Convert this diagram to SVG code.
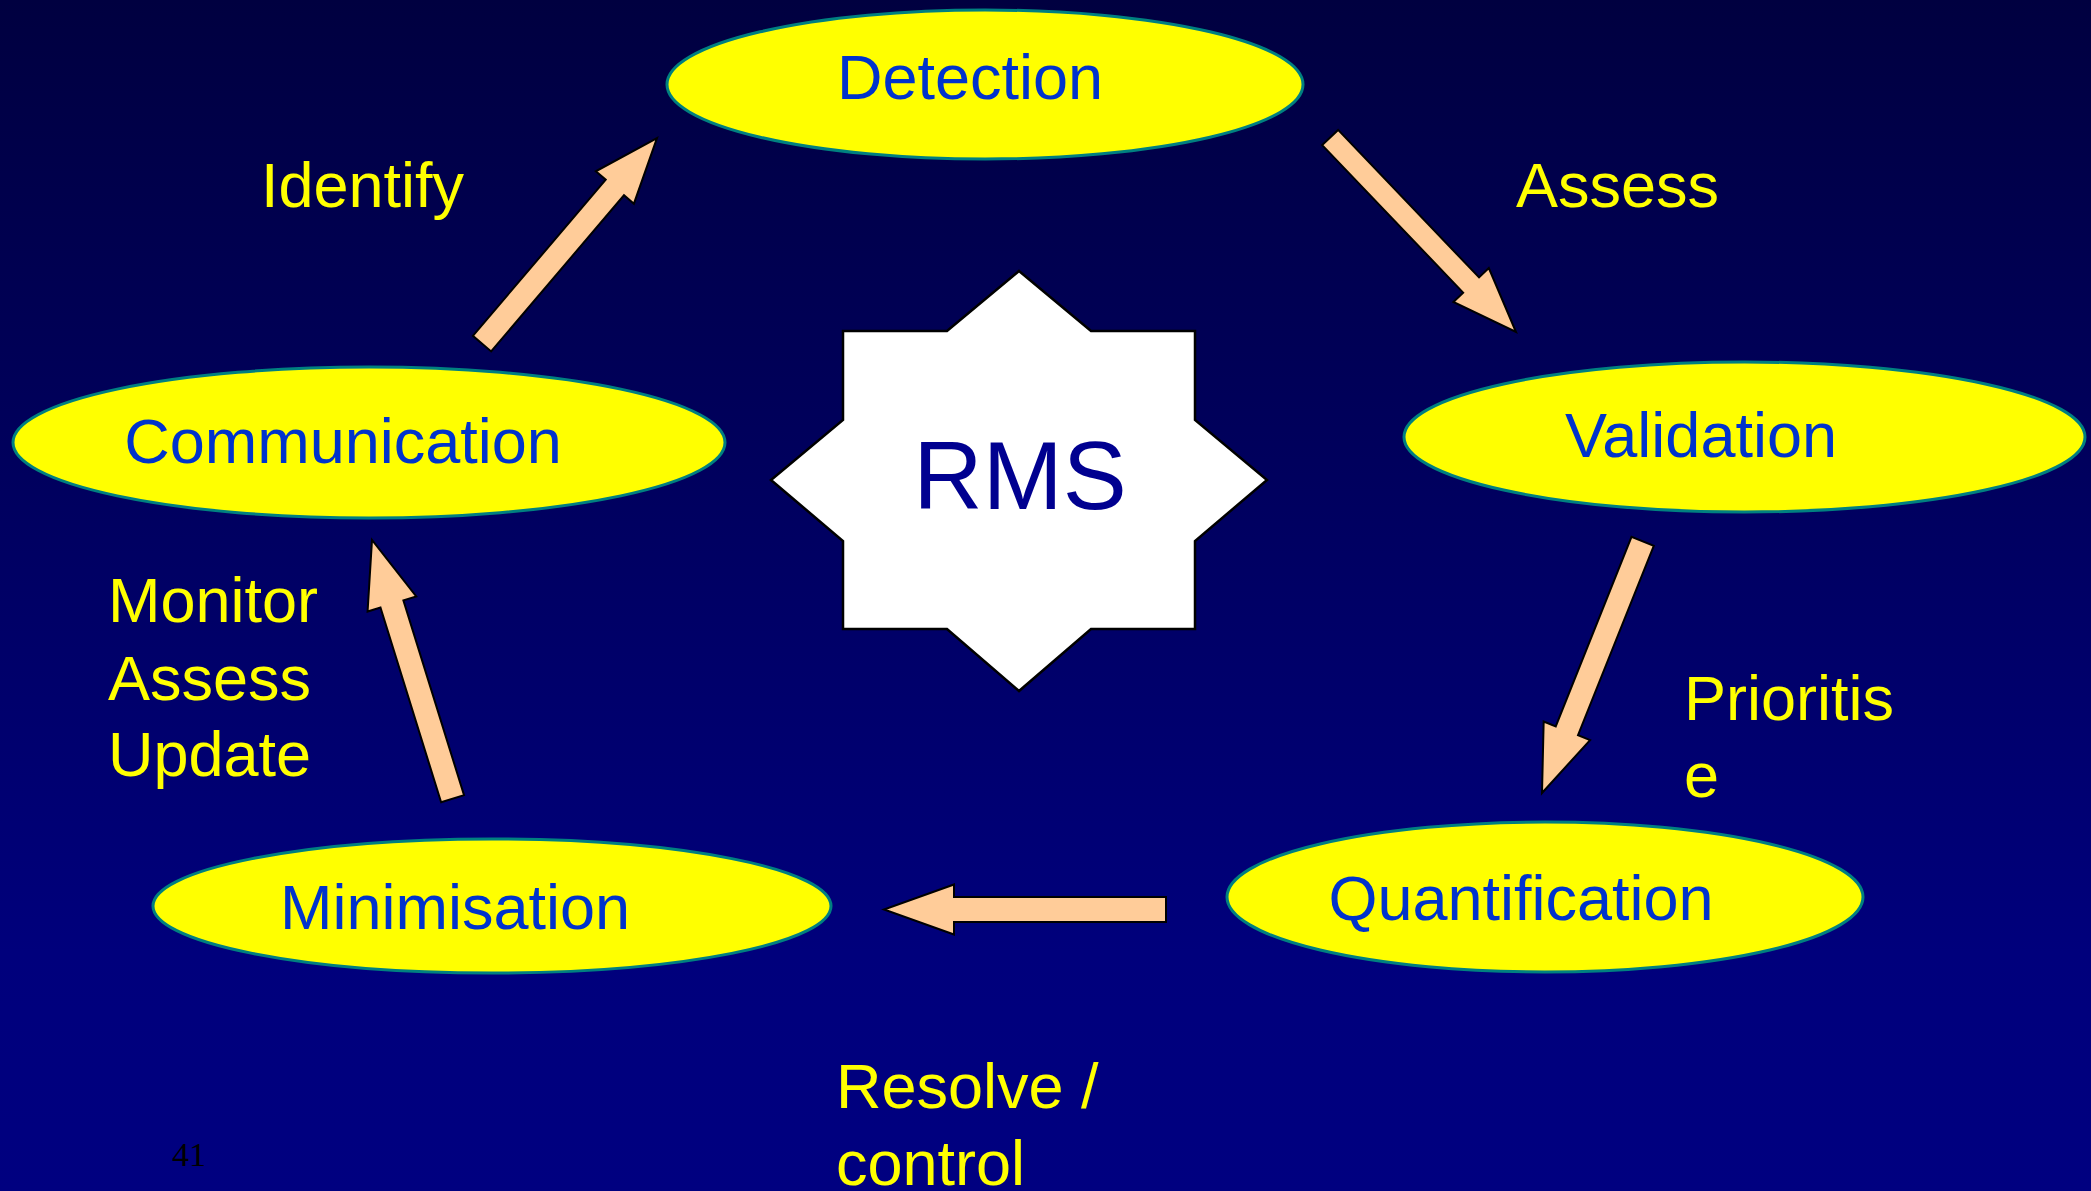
<svg xmlns="http://www.w3.org/2000/svg" width="2091" height="1191" viewBox="0 0 2091 1191">
  <defs>
    <linearGradient id="bg" x1="0" y1="0" x2="0" y2="1">
      <stop offset="0" stop-color="#000040"/>
      <stop offset="0.8" stop-color="#00007c"/>
      <stop offset="1" stop-color="#000080"/>
    </linearGradient>
  </defs>
  <style>
    .node ellipse { fill: #ffff00; stroke: #008080; stroke-width: 3; }
    .node text { font-family: "Liberation Sans", Arial, sans-serif; font-size: 63px; fill: #0033cc; text-anchor: middle; }
    .arrow { fill: #ffcc99; stroke: #000000; stroke-width: 2; stroke-linejoin: miter; }
    .label { font-family: "Liberation Sans", Arial, sans-serif; font-size: 63px; fill: #ffff00; }
    .star { fill: #ffffff; stroke: #000000; stroke-width: 2.5; }
    .hub { font-family: "Liberation Sans", Arial, sans-serif; font-size: 96px; fill: #000090; text-anchor: middle; }
    .pageno { font-family: "Liberation Serif", "Times New Roman", serif; font-size: 34px; fill: #000000; }
  </style>

  <rect x="0" y="0" width="2091" height="1191" fill="url(#bg)"/>

  <!-- central hub -->
  <g id="rms">
    <polygon class="star" points="1019,271 1091,331 1195,331 1195,420 1267,480 1195,541 1195,629 1091,629 1019,691 947,629 843,629 843,541 771,480 843,420 843,331 947,331"/>
    <text class="hub" x="1020" y="509">RMS</text>
  </g>

  <!-- cycle stages -->
  <g id="detection" class="node">
    <ellipse cx="985" cy="84.5" rx="318" ry="74.5"/>
    <text x="970" y="99">Detection</text>
  </g>
  <g id="validation" class="node">
    <ellipse cx="1744.5" cy="437" rx="340.5" ry="75"/>
    <text x="1701" y="457">Validation</text>
  </g>
  <g id="quantification" class="node">
    <ellipse cx="1545" cy="897" rx="318" ry="75"/>
    <text x="1521" y="920">Quantification</text>
  </g>
  <g id="minimisation" class="node">
    <ellipse cx="492" cy="906" rx="339" ry="67"/>
    <text x="455" y="929">Minimisation</text>
  </g>
  <g id="communication" class="node">
    <ellipse cx="369" cy="442.5" rx="356" ry="75.5"/>
    <text x="343" y="463">Communication</text>
  </g>

  <!-- block arrows between stages (tip at origin, pointing along +x) -->
  <g id="connectors">
    <polygon class="arrow" transform="translate(657,138) rotate(-49.6)" points="-270,-12 -65,-12 -65,-25 0,0 -65,25 -65,12 -270,12"/>
    <polygon class="arrow" transform="translate(1516,332) rotate(46.3)" points="-269,-11 -65,-11 -65,-24.5 0,0 -65,24.5 -65,11 -269,11"/>
    <polygon class="arrow" transform="translate(1542,793) rotate(111.8)" points="-271,-12 -67,-12 -67,-25 0,0 -67,25 -67,12 -271,12"/>
    <polygon class="arrow" transform="translate(884,909.5) rotate(180)" points="-282,-12.5 -70,-12.5 -70,-25 0,0 -70,25 -70,12.5 -282,12.5"/>
    <polygon class="arrow" transform="translate(372,540) rotate(-107.3)" points="-271,-12 -67,-12 -67,-25.5 0,0 -67,25.5 -67,12 -271,12"/>
  </g>

  <!-- step labels -->
  <g id="labels">
    <text class="label" x="261" y="207">Identify</text>
    <text class="label" x="1516" y="207">Assess</text>
    <text class="label" x="1684" y="720">Prioritis</text>
    <text class="label" x="1684" y="797">e</text>
    <text class="label" x="836" y="1108">Resolve /</text>
    <text class="label" x="836" y="1185">control</text>
    <text class="label" x="108" y="622">Monitor</text>
    <text class="label" x="108" y="700">Assess</text>
    <text class="label" x="108" y="776">Update</text>
  </g>

  <text class="pageno" x="172" y="1166">41</text>
</svg>
